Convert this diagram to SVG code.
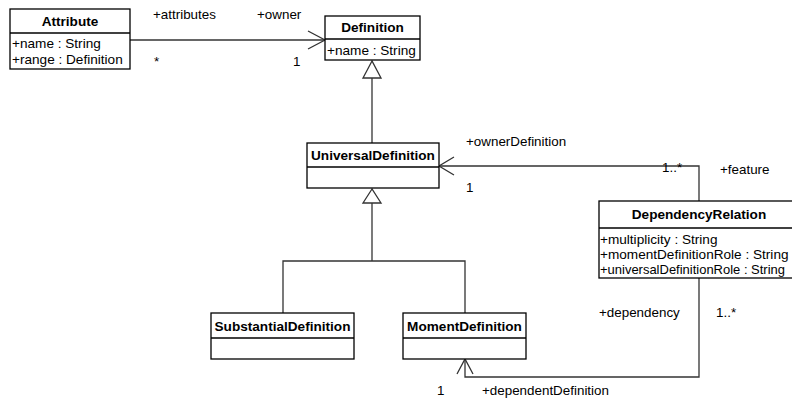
<svg xmlns="http://www.w3.org/2000/svg" width="792" height="401" viewBox="0 0 792 401">
  <style>
    .box { fill: #ffffff; stroke: #000000; stroke-width: 1.3; }
    .sep { stroke: #000000; stroke-width: 1.3; }
    .title { font-family: "Liberation Sans", Arial, sans-serif; font-size: 13.6px; font-weight: bold; text-anchor: middle; fill: #000; }
    .attr { font-family: "Liberation Sans", Arial, sans-serif; font-size: 13.6px; fill: #000; }
    .lbl { font-family: "Liberation Sans", Arial, sans-serif; font-size: 13.4px; fill: #000; }
    .edge { fill: none; stroke: #333333; stroke-width: 1.3; }
    .gen { fill: #ffffff; stroke: #333333; stroke-width: 1.3; }
  </style>
  <rect width="792" height="401" fill="#ffffff"/>

  <!-- connectors -->
  <g id="connectors">
    <!-- Attribute -> Definition association -->
    <polyline class="edge" points="130,40 325,40"/>
    <polyline class="edge" points="308,31 325,40 308,49"/>
    <!-- UniversalDefinition generalizes to Definition -->
    <polyline class="edge" points="372,78 372,143"/>
    <polygon class="gen" points="372,61 363,78 381,78"/>
    <!-- Substantial/Moment generalize to UniversalDefinition -->
    <polyline class="edge" points="372,203 372,261"/>
    <polyline class="edge" points="283,313 283,261 465,261 465,313"/>
    <polygon class="gen" points="372,189 363,203 381,203"/>
    <!-- DependencyRelation -> UniversalDefinition -->
    <polyline class="edge" points="699,201 699,166 439,166"/>
    <polyline class="edge" points="454,157 439,166 454,175"/>
    <!-- DependencyRelation -> MomentDefinition -->
    <polyline class="edge" points="699,278 699,377 465,377 465,359"/>
    <polyline class="edge" points="457,374 465,359 473,374"/>
  </g>

  <!-- connector labels -->
  <g id="labels">
    <text class="lbl" x="153" y="19">+attributes</text>
    <text class="lbl" x="257" y="19">+owner</text>
    <text class="lbl" x="154" y="66">*</text>
    <text class="lbl" x="293" y="66">1</text>
    <text class="lbl" x="466" y="146">+ownerDefinition</text>
    <text class="lbl" x="466" y="192">1</text>
    <text class="lbl" x="662" y="172">1..*</text>
    <text class="lbl" x="720" y="174">+feature</text>
    <text class="lbl" x="599" y="317">+dependency</text>
    <text class="lbl" x="716" y="317">1..*</text>
    <text class="lbl" x="437" y="395">1</text>
    <text class="lbl" x="482" y="395">+dependentDefinition</text>
  </g>

  <g id="Attribute">
    <rect class="box" x="10" y="9" width="120" height="60"/>
    <line class="sep" x1="10" y1="33" x2="130" y2="33"/>
    <text class="title" x="70" y="26">Attribute</text>
    <text class="attr" x="12" y="48">+name : String</text>
    <text class="attr" x="12" y="64">+range : Definition</text>
  </g>

  <g id="Definition">
    <rect class="box" x="325" y="16" width="95" height="44"/>
    <line class="sep" x1="325" y1="39" x2="420" y2="39"/>
    <text class="title" x="372.5" y="32">Definition</text>
    <text class="attr" x="327" y="55">+name : String</text>
  </g>

  <g id="UniversalDefinition">
    <rect class="box" x="307" y="143" width="132" height="45"/>
    <line class="sep" x1="307" y1="167" x2="439" y2="167"/>
    <text class="title" x="373" y="160">UniversalDefinition</text>
  </g>

  <g id="DependencyRelation">
    <rect class="box" x="599" y="201" width="200" height="77"/>
    <line class="sep" x1="599" y1="228" x2="799" y2="228"/>
    <text class="title" x="699" y="219">DependencyRelation</text>
    <text class="attr" x="600" y="244">+multiplicity : String</text>
    <text class="attr" x="600" y="259">+momentDefinitionRole : String</text>
    <text class="attr" x="600" y="274" font-size="13px" textLength="185" lengthAdjust="spacingAndGlyphs">+universalDefinitionRole : String</text>
  </g>

  <g id="SubstantialDefinition">
    <rect class="box" x="211" y="313" width="143" height="46"/>
    <line class="sep" x1="211" y1="338" x2="354" y2="338"/>
    <text class="title" x="282.5" y="331">SubstantialDefinition</text>
  </g>

  <g id="MomentDefinition">
    <rect class="box" x="403" y="313" width="123" height="46"/>
    <line class="sep" x1="403" y1="338" x2="526" y2="338"/>
    <text class="title" x="464.5" y="331">MomentDefinition</text>
  </g>
</svg>
